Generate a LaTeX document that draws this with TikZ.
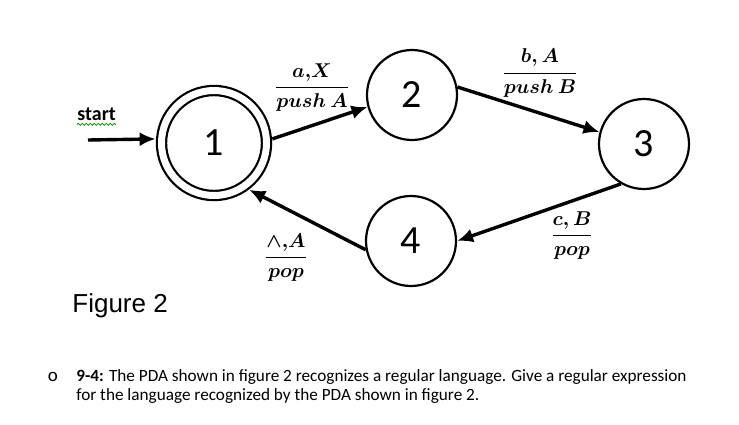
\documentclass[tikz,border=0pt]{standalone}
\usepackage{amsmath}
\usepackage{bm}
\usepackage{fontspec}
\setmainfont{Carlito}
\newfontfamily\figfont{Liberation Sans}
\usetikzlibrary{arrows.meta}
\usetikzlibrary{decorations.pathmorphing}

\begin{document}
\begin{tikzpicture}[x=0.5pt, y=-0.5pt,
	state/.style={draw, circle, line width=1.1pt, minimum size=45pt, inner sep=0pt, font=\fontsize{20}{24}\selectfont},
	accept/.style={state, double, double distance=3.5pt, minimum size=52.5pt, outer sep=3pt},
	edge/.style={-{Latex[length=8pt, width=7pt]}, line width=1.7pt},
	trans/.style={font=\fontsize{9.8}{11}\selectfont\boldmath},
	question/.style={anchor=base west, inner sep=0pt, font=\fontsize{8.6}{10}\selectfont}]
	
	\useasboundingbox (0, 0) rectangle (739, 424);
	
	\node [accept] at (214, 143) (n1){1};
	\node [state] at (412, 95) (n2){2};
	\node [state] at (644, 144) (n3){3};
	\node [state] at (411, 241) (n4){4};
	
	\node [anchor=base west, inner sep=0pt, font=\bfseries\fontsize{10}{12}\selectfont] at (77, 120) (start_lbl){start};
	\draw [green!55!black, line width=0.4pt, decorate, decoration={snake, amplitude=0.5pt, segment length=2pt}] ([yshift=-2.2pt]start_lbl.base west) -- ([yshift=-2.2pt]start_lbl.base east);
	\coordinate (start) at (88, 140);
	\draw [edge] (start) -- (n1.176);
	
	\draw [edge] (n1.4) -- (n2.195);
	\draw [edge] (n2.10) -- (n3.165);
	\draw [edge] (n3.240) -- (n4.0);
	\draw [edge] (n4.191) -- (n1.307);
	
	\node [trans] at (312, 88) (t12){$\dfrac{a{,}X}{push\ A}$};
	\node [trans] at (540, 73) (t23){$\dfrac{b,A}{push\ B}$};
	\node [trans] at (572, 236) (t34){$\dfrac{c,B}{pop}$};
	\node [trans] at (286, 258) (t41){$\dfrac{\wedge{,}A}{pop}$};
	
	\node [anchor=base west, inner sep=0pt, font=\figfont\fontsize{13}{15}\selectfont] at (72, 312) (fig_lbl){Figure 2};
	
	\node [anchor=base, inner sep=0pt, font=\fontsize{9.5}{11}\selectfont] at (53, 381) (bullet){o};
	\node [question] at (76, 381) (q_line1){\textbf{9-4:} The PDA shown in figure 2 recognizes a regular language. Give a regular expression};
	\node [question] at (76, 400) (q_line2){for the language recognized by the PDA shown in figure 2.};
	
\end{tikzpicture}
\end{document}
